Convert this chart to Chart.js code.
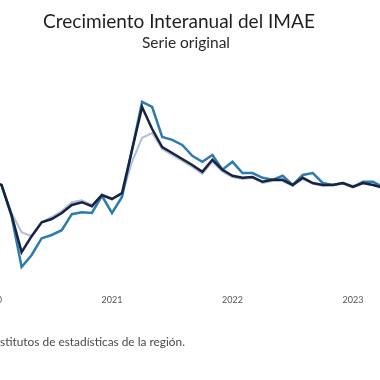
<!DOCTYPE html>
<html><head><meta charset="utf-8">
<script src="https://cdn.jsdelivr.net/npm/chart.js@4.4.0/dist/chart.umd.min.js"></script>
<style>
html,body{margin:0;padding:0;overflow:hidden;background:#fff;width:380px;height:380px;}
#wrap{position:absolute;left:-30px;top:0;width:424px;height:380px;}
</style></head><body>
<div id="wrap"><canvas id="c" width="424" height="380"></canvas></div>
<script>
// month index: 0 = enero 2020
const months = [0,1,2,3,4,5,6,7,8,9,10,11,12,13,14,15,16,17,18,19,20,21,22,23,24,25,26,27,28,29,30,31,32,33,34,35,36,37,38,39,40];
const yearTicks = [0,12,24,36];
const yearLabels = ['2020','2021','2022','2023'];
const serieOscura = [3.8,3.0,-4.5,-13.8,-9.8,-6.3,-5.5,-4.0,-2.0,-1.3,-2.3,0.5,-0.5,1.0,11.8,22.5,17.0,12.5,11.0,9.5,8.0,6.3,9.3,6.8,5.3,4.8,5.0,3.8,4.3,4.3,3.0,4.8,3.5,3.0,3.0,3.5,2.5,3.5,3.0,2.3,2.5];
const serieMedia  = [3.8,3.0,-4.8,-17.5,-14.5,-10.3,-9.5,-8.3,-4.3,-3.8,-4.0,0.3,-4.0,0.0,11.8,23.8,22.5,15.0,14.3,13.0,10.3,8.8,10.5,6.8,8.8,6.0,6.0,4.8,4.3,5.3,3.0,5.5,6.0,3.5,3.0,3.5,2.5,3.8,3.8,2.5,2.8];
const serieClara  = [3.8,3.0,-4.0,-8.8,-9.8,-6.3,-5.0,-3.5,-1.3,-0.8,-2.0,0.5,-0.3,0.5,8.8,14.8,16.0,12.0,10.5,9.0,7.5,5.8,8.8,6.3,5.0,4.5,4.8,3.5,4.0,4.0,2.8,4.5,3.3,2.8,3.0,3.5,2.8,3.5,3.0,2.3,2.5];
const titulo = 'Crecimiento Interanual del IMAE';
const subtitulo = 'Serie original';
const fuente = 'stitutos de estadísticas de la región.';

const OFF = 30;
function pts(arr){ return months.map((m,i)=>({x:m,y:arr[i]})); }

const textPlugin = {
  id:'texts',
  afterDraw(chart){
    const ctx = chart.ctx;
    function fitFont(text, family, target, weight){
      ctx.font = (weight||'') + ' 20px ' + family;
      const w = ctx.measureText(text).width;
      return 20*target/w;
    }
    ctx.save();
    ctx.textBaseline='alphabetic';
    ctx.textAlign='center';
    let s = fitFont(titulo,'Lato',272);
    ctx.font = s.toFixed(2)+'px Lato'; ctx.fillStyle='#1f1f1f';
    ctx.fillText(titulo, 179+OFF, 28);
    s = fitFont(subtitulo,'Lato',88);
    ctx.font = s.toFixed(2)+'px Lato'; ctx.fillStyle='#2a2a2a';
    ctx.fillText(subtitulo, 186+OFF, 48);
    ctx.textAlign='left';
    s = fitFont(fuente,'Lato',185);
    ctx.font = s.toFixed(2)+'px Lato'; ctx.fillStyle='#4a4a4a';
    ctx.fillText(fuente, 0+OFF, 346);
    ctx.restore();
  }
};

function build(){
new Chart(document.getElementById('c'), {
  type:'line',
  data:{ datasets:[
    {label:'Serie clara', data:pts(serieClara), borderColor:'#adc1da', borderWidth:2, pointRadius:0, tension:0, order:3},
    {label:'Serie media', data:pts(serieMedia), borderColor:'#2c7cb1', borderWidth:2.5, pointRadius:0, tension:0, order:2},
    {label:'Serie oscura', data:pts(serieOscura), borderColor:'#19223f', borderWidth:2.5, pointRadius:0, tension:0, order:1}
  ]},
  options:{
    responsive:false, animation:false, devicePixelRatio:1,
    layout:{padding:{top:60,bottom:71,left:0,right:0}},
    plugins:{legend:{display:false}, tooltip:{enabled:false}, title:{display:false}},
    scales:{
      x:{type:'linear', min:-2.141, max:40.09,
         afterBuildTicks:(sc)=>{ sc.ticks = yearTicks.map(v=>({value:v})); },
         ticks:{callback:(v,i)=>yearLabels[i], font:{family:'Lato', size:9}, color:'#555', padding:4, autoSkip:false, maxRotation:0},
         grid:{display:false, drawTicks:false}, border:{display:false}},
      y:{display:false, min:-23.3, max:34.25}
    }
  },
  plugins:[textPlugin]
});
}
if (document.fonts && document.fonts.load) {
  Promise.all([document.fonts.load('20px Lato')]).then(build, build);
} else build();
</script>
</body></html>
